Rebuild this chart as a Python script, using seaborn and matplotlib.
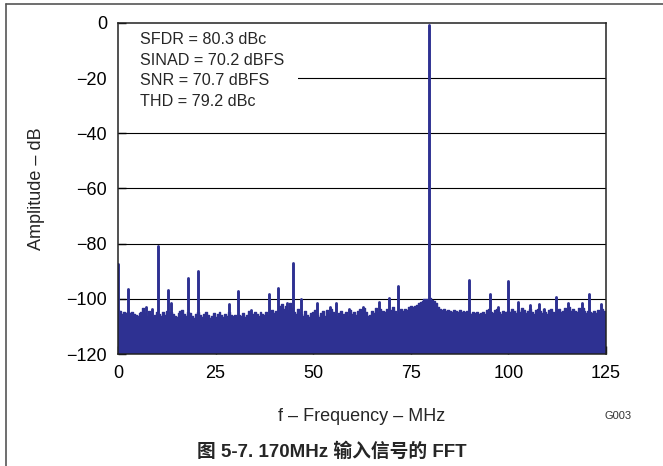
import numpy as np
import pandas as pd
import matplotlib
matplotlib.use('Agg')
import matplotlib.pyplot as plt
from matplotlib.lines import Line2D
from matplotlib.patches import Rectangle
import seaborn as sns

# spectrum noise floor at 0.5 MHz steps (0 .. 125 MHz)
noise_start = 0.0
noise_step = 0.5
noise_top = [
    -104.0, -104.5, -105.5, -104.8, -105.2, -104.6, -105.0, -104.7, -105.3, -105.8,
    -106.2, -105.0, -104.6, -103.4, -105.2, -106.0, -104.2, -105.5, -106.4, -105.8,
    -104.9, -105.3, -106.0, -104.7, -105.9, -104.5, -104.8, -104.6, -105.4, -106.2,
    -106.5, -105.1, -104.3, -103.9, -105.6, -106.3, -104.8, -105.2, -106.1, -106.8,
    -105.4, -104.9, -105.7, -106.6, -105.3, -104.6, -105.8, -106.9, -106.0, -105.2,
    -106.4, -105.6, -104.9, -105.8, -106.7, -105.5, -106.3, -104.8, -105.9, -106.2,
    -105.7, -106.5, -105.9, -106.3, -105.1, -106.6, -105.8, -104.2, -106.1, -105.4,
    -104.8, -105.6, -106.3, -104.7, -105.5, -105.9, -104.6, -105.8, -104.4, -103.9,
    -105.1, -104.3, -104.8, -102.6, -101.8, -103.5, -102.4, -103.9, -101.5, -103.2,
    -104.7, -105.3, -103.8, -104.9, -105.6, -106.1, -104.3, -105.8, -106.5, -105.2,
    -104.6, -103.9, -105.7, -106.4, -105.0, -104.5, -106.2, -104.1, -105.3, -103.8,
    -104.9, -105.6, -106.3, -105.1, -104.2, -106.0, -105.4, -104.8, -106.1, -104.0,
    -105.5, -104.6, -105.9, -104.3, -103.5, -104.1, -103.2, -104.8, -106.0, -105.7,
    -104.5, -105.2, -103.4, -104.6, -103.8, -105.1, -104.2, -104.9, -103.6, -104.4,
    -104.0, -103.1, -104.5, -105.3, -104.7, -103.8, -104.2, -103.5, -103.9, -102.8,
    -102.4, -103.0, -102.6, -102.2, -101.6, -101.0, -100.6, -100.2, -99.9, -100.1,
    -99.8, -100.3, -100.9, -101.6, -102.8, -103.6, -104.1, -103.8, -104.3, -103.9,
    -104.2, -104.6, -104.0, -104.5, -104.8, -104.1, -104.9, -104.3, -104.7, -104.2,
    -105.0, -105.4, -104.6, -105.2, -104.8, -105.6, -105.1, -104.7, -105.3, -104.0,
    -103.8, -104.6, -105.2, -104.1, -103.7, -104.9, -105.5, -104.3, -105.1, -104.6,
    -104.2, -104.8, -103.6, -104.5, -105.2, -103.9, -104.6, -103.4, -104.1, -105.0,
    -104.3, -103.5, -104.8, -105.3, -104.0, -103.6, -104.4, -105.1, -103.8, -104.9,
    -105.4, -104.1, -103.7, -104.6, -105.2, -104.0, -103.5, -104.8, -104.2, -103.3,
    -103.8, -103.1, -104.5, -103.6, -104.2, -104.8, -103.4, -104.0, -103.2, -104.5,
    -105.1, -104.3, -104.7, -105.0, -104.4, -105.2, -104.1, -104.8, -103.6, -104.3,
    -104.6,
]

# spurs and the fundamental tone
spur_freq = [0.0, 2.5, 7.1, 8.7, 10.2, 12.7, 13.5, 18.0, 20.4, 28.4, 30.8, 34.0,
             38.6, 41.1, 43.2, 44.9, 47.0, 51.1, 54.3, 55.8, 59.2, 62.7, 66.8,
             69.4, 71.8, 79.6, 89.9, 95.4, 97.3, 100.0, 102.5, 105.5, 107.9,
             109.2, 112.1, 115.3, 118.8, 120.6, 123.8]
spur_level = [-87.3, -96.5, -103.0, -103.8, -81.0, -96.6, -101.5, -92.5, -90.0,
              -102.0, -97.2, -104.0, -98.1, -95.9, -101.6, -87.0, -100.2, -101.4,
              -102.8, -101.6, -103.7, -103.0, -101.0, -99.8, -95.2, -0.8, -93.3,
              -98.2, -102.8, -93.5, -101.2, -102.3, -101.9, -103.5, -99.2, -101.3,
              -101.3, -98.2, -101.8]

stat_labels = ['SFDR = 80.3 dBc', 'SINAD = 70.2 dBFS', 'SNR = 70.7 dBFS', 'THD = 79.2 dBc']

x_ticks = [0, 25, 50, 75, 100, 125]
y_ticks = [-120, -100, -80, -60, -40, -20, 0]

blue = '#2e3192'

sns.set_style('ticks')
plt.rcParams['font.family'] = ['Liberation Sans', 'Noto Sans CJK SC', 'DejaVu Sans']

noise_freq = noise_start + noise_step * np.arange(len(noise_top))
df = pd.DataFrame({'freq': noise_freq, 'level': noise_top})

fig = plt.figure(figsize=(6.63, 4.66), dpi=100)
ax = fig.add_axes([0.178, 0.240, 0.736, 0.711])

# grid lines under everything
for yv in y_ticks[1:-1]:
    ax.axhline(yv, color='black', lw=0.8, zorder=0.8)

ax.fill_between(df['freq'], df['level'], -120, step='mid', color=blue, lw=0, zorder=2)
sns.lineplot(data=df, x='freq', y='level', drawstyle='steps-mid', color=blue,
             lw=1.0, ax=ax, zorder=2)
sp = ax.vlines(spur_freq, -120, spur_level, color=blue, lw=2.1, zorder=2.2)
sp.set_capstyle('round')

# white box behind the stats text
ax.add_patch(Rectangle((0.0, 0.70), 0.369, 0.29, transform=ax.transAxes,
                       fc='white', ec='none', zorder=1))
for i, s in enumerate(stat_labels):
    ax.text(0.045, 0.949 - i * 0.062, s, transform=ax.transAxes, fontsize=11.6,
            va='center', ha='left', zorder=3)

ax.set_xlim(0, 125)
ax.set_ylim(-120, 0)
ax.set_xticks(x_ticks)
ax.set_yticks(y_ticks)
ax.tick_params(direction='in', length=6, width=1, colors='black', labelsize=13, pad=8)
for s in ax.spines.values():
    s.set_color('#222222')
    s.set_linewidth(1.1)
    s.set_zorder(3)

ax.set_xlabel('f \u2013 Frequency \u2013 MHz', fontsize=13)
ax.set_ylabel('Amplitude \u2013 dB', fontsize=13)
ax.xaxis.set_label_coords(0.5, -0.163)
ax.yaxis.set_label_coords(-0.150, 0.5)

fig.text(0.932, 0.107, 'G003', fontsize=8, ha='center', va='center', color='#333333')
fig.text(0.5, 0.030, '图 5-7. 170MHz 输入信号的 FFT', fontsize=13.5, fontweight='bold',
         ha='center', va='center')

# outer frame of the figure panel
fig.add_artist(Line2D([6 / 663, 1.0], [1 - 4 / 466, 1 - 4 / 466], transform=fig.transFigure,
                      color='#555555', lw=1.2))
fig.add_artist(Line2D([6 / 663, 6 / 663], [0.0, 1 - 4 / 466], transform=fig.transFigure,
                      color='#555555', lw=1.2))

fig.savefig('out.png', dpi=100)
